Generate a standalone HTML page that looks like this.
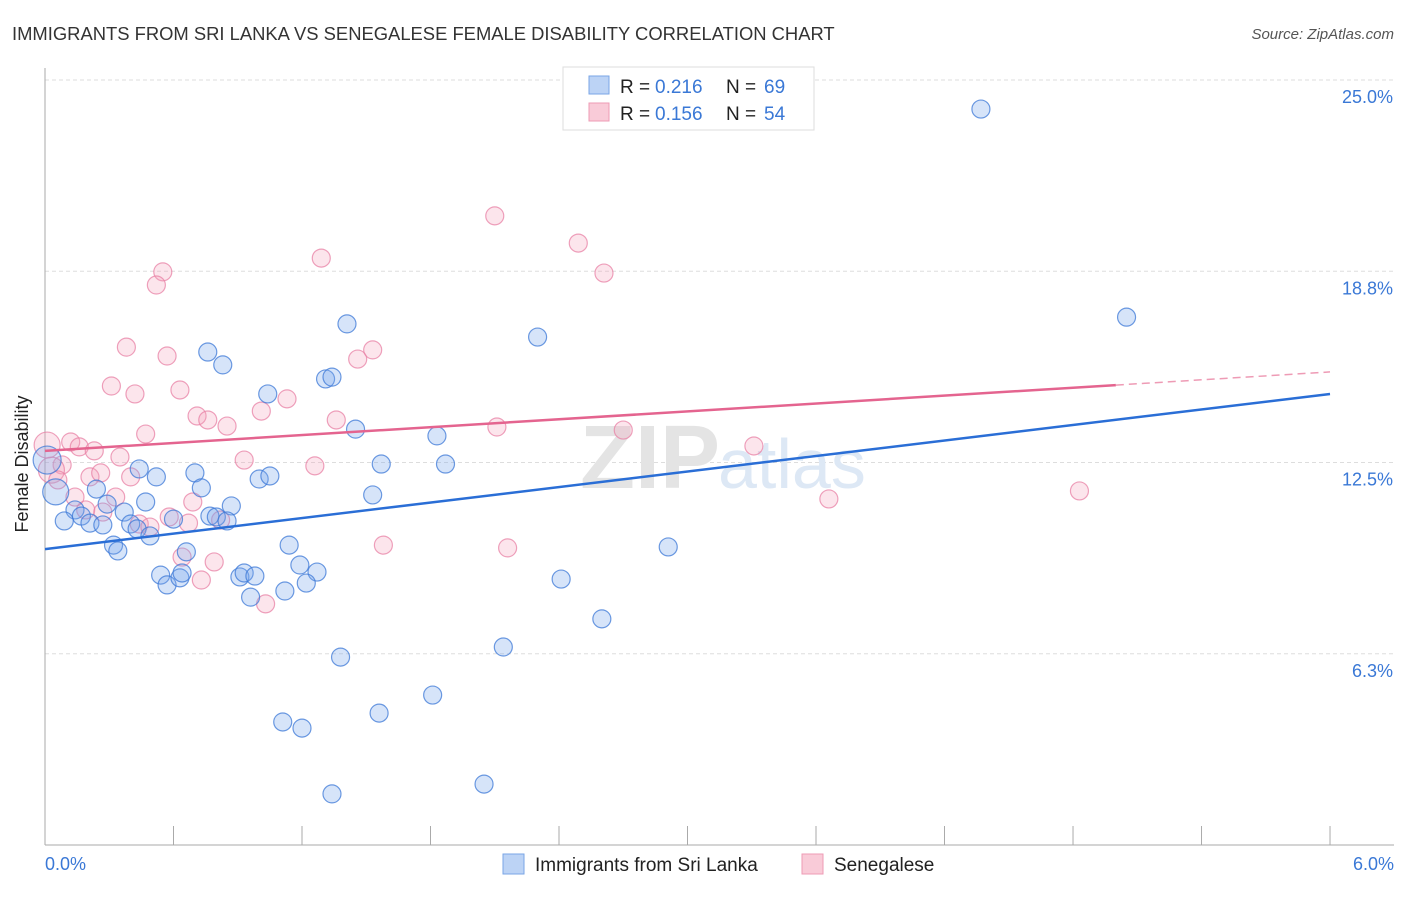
<!DOCTYPE html>
<html><head><meta charset="utf-8"><style>
body{margin:0;background:#fff;font-family:"Liberation Sans",sans-serif;}
svg text{font-family:"Liberation Sans",sans-serif;}
</style></head><body>
<svg id="chart" width="1406" height="892" xmlns="http://www.w3.org/2000/svg">
<text x="12" y="40" font-size="18.4" fill="#333">IMMIGRANTS FROM SRI LANKA VS SENEGALESE FEMALE DISABILITY CORRELATION CHART</text>
<text x="1394" y="39" font-size="15" fill="#555" font-style="italic" text-anchor="end">Source: ZipAtlas.com</text>
<g id="grid"></g>
<text x="720" y="488" font-size="90" fill="#e4e4e4" text-anchor="end" font-weight="bold">ZIP</text>
<text x="718" y="488" font-size="70" fill="#dde8f5">atlas</text>
<line x1="45" y1="68" x2="45" y2="845" stroke="#aaa"/>
<line x1="45" y1="845" x2="1394" y2="845" stroke="#aaa"/>
<g id="xticks"></g>
<text x="20" y="456" font-size="18" fill="#222" text-anchor="middle" transform="rotate(-90 28 456)">Female Disability</text>
<text x="45" y="870" font-size="18" fill="#3a78d6">0.0%</text>
<text x="1394" y="870" font-size="18" fill="#3a78d6" text-anchor="end">6.0%</text>
<g id="pts"></g>
<g id="lines"></g>
<g>
<rect x="563" y="67" width="251" height="63" fill="#fff" stroke="#ddd"/>
<rect x="589" y="76" width="20" height="18" fill="#bcd3f5" stroke="#7aa6e6"/>
<text x="620" y="93" font-size="19" fill="#222">R =</text>
<text x="655" y="93" font-size="19" fill="#3a78d6">0.216</text>
<text x="726" y="93" font-size="19" fill="#222">N =</text>
<text x="764" y="93" font-size="19" fill="#3a78d6">69</text>
<rect x="589" y="103" width="20" height="18" fill="#f9cbd8" stroke="#ee9bb5"/>
<text x="620" y="120" font-size="19" fill="#222">R =</text>
<text x="655" y="120" font-size="19" fill="#3a78d6">0.156</text>
<text x="726" y="120" font-size="19" fill="#222">N =</text>
<text x="764" y="120" font-size="19" fill="#3a78d6">54</text>
</g>
<g>
<rect x="503" y="854" width="21" height="20" fill="#bcd3f5" stroke="#7aa6e6"/>
<text x="535" y="871" font-size="19" fill="#222">Immigrants from Sri Lanka</text>
<rect x="802" y="854" width="21" height="20" fill="#f9cbd8" stroke="#ee9bb5"/>
<text x="834" y="871" font-size="19" fill="#222">Senegalese</text>
</g>
</svg>
<script>
const yTicks=[25.0,18.8,12.5,6.3];
const yTickVals=[25,18.75,12.5,6.25];
const xTickVals=[0,0.6,1.2,1.8,2.4,3.0,3.6,4.2,4.8,5.4,6.0];
const blueX=[4.37,5.05,2.30,1.41,0.76,0.83,1.04,1.31,1.34,1.45,1.83,1.57,1.87,1.53,0.70,0.44,0.52,0.73,1.00,1.05,0.24,0.47,0.87,0.37,0.29,0.14,0.17,0.21,0.09,0.27,0.40,0.43,0.49,0.60,0.77,0.80,0.85,0.32,0.34,1.14,0.66,1.19,1.27,0.54,0.57,0.63,0.64,0.91,0.93,0.98,0.96,1.12,1.22,2.41,2.91,2.60,2.14,1.38,1.81,1.56,1.11,1.20,2.05,1.34,0.05,0.01];
const blueY=[24.05,17.25,16.60,17.03,16.11,15.69,14.74,15.23,15.29,13.59,13.37,12.45,12.45,11.44,12.16,12.29,12.03,11.67,11.96,12.06,11.63,11.21,11.08,10.88,11.14,10.95,10.75,10.52,10.59,10.46,10.49,10.33,10.10,10.65,10.75,10.72,10.59,9.80,9.61,9.80,9.58,9.15,8.92,8.82,8.50,8.73,8.89,8.76,8.89,8.79,8.10,8.30,8.56,8.69,9.74,7.39,6.47,6.14,4.90,4.31,4.02,3.82,1.99,1.67,11.54,12.58];
const blueR=[9,9,9,9,9,9,9,9,9,9,9,9,9,9,9,9,9,9,9,9,9,9,9,9,9,9,9,9,9,9,9,9,9,9,9,9,9,9,9,9,9,9,9,9,9,9,9,9,9,9,9,9,9,9,9,9,9,9,9,9,9,9,9,9,13,14];
const pinkX=[2.10,2.49,2.61,1.29,0.55,0.52,0.38,0.57,1.46,1.53,0.31,0.42,0.63,1.13,0.71,0.76,0.85,1.01,1.36,0.47,2.11,2.70,3.31,0.12,0.16,0.23,0.35,0.93,1.26,0.08,0.03,0.21,0.26,0.40,0.33,0.06,0.69,0.19,0.27,0.58,0.67,0.44,0.49,0.82,0.14,4.83,3.66,1.58,2.16,0.64,0.79,0.73,1.03,0.01];
const pinkY=[20.56,19.67,18.69,19.18,18.73,18.30,16.27,15.98,15.88,16.18,15.00,14.74,14.87,14.58,14.02,13.89,13.69,14.18,13.89,13.43,13.66,13.56,13.04,13.17,13.01,12.88,12.68,12.58,12.39,12.42,12.25,12.03,12.16,12.03,11.37,11.93,11.21,10.95,10.88,10.72,10.52,10.49,10.39,10.62,11.37,11.57,11.31,9.80,9.71,9.41,9.25,8.66,7.88,13.07];
const blueLine=[9.67,14.74];
const pinkLine=[12.88,15.46];
const pinkSolidEnd=5.0;
const NS="http://www.w3.org/2000/svg";
function sx(v){return 45+v*214.17;}
function sy(v){return 80+(25-v)*30.6;}
const grid=document.getElementById('grid');
yTickVals.forEach((v,i)=>{
 const l=document.createElementNS(NS,'line');
 
 
 l.setAttribute('x1',45);l.setAttribute('x2',1394);l.setAttribute('y1',sy(v));l.setAttribute('y2',sy(v));
 l.setAttribute('stroke','#ddd');l.setAttribute('stroke-dasharray','4,3');grid.appendChild(l);
 const t=document.createElementNS(NS,'text');
 
 
 t.setAttribute('x',1393);t.setAttribute('y',sy(v)+23);t.setAttribute('text-anchor','end');
 t.setAttribute('font-size','18');t.setAttribute('fill','#3a78d6');t.textContent=yTicks[i].toFixed(1)+'%';grid.appendChild(t);
});
const xt=document.getElementById('xticks');
xTickVals.forEach(v=>{
 const l=document.createElementNS(NS,'line');
 
 
 l.setAttribute('x1',sx(v));l.setAttribute('x2',sx(v));l.setAttribute('y1',826);l.setAttribute('y2',845);
 l.setAttribute('stroke','#aaa');xt.appendChild(l);
});
const pts=document.getElementById('pts');
function dot(x,y,r,fill,stroke,name){
 const c=document.createElementNS(NS,'circle');
 
 
 c.setAttribute('cx',sx(x));c.setAttribute('cy',sy(y));c.setAttribute('r',r);
 c.setAttribute('fill',fill);c.setAttribute('stroke',stroke);c.setAttribute('stroke-width','1.2');pts.appendChild(c);
}
pinkX.forEach((x,i)=>dot(x,pinkY[i],(i===30||i===53)?13:9,'rgba(244,160,188,0.28)','rgba(232,130,165,0.75)','senegalese-point'));
blueX.forEach((x,i)=>dot(x,blueY[i],blueR[i]||9,'rgba(120,165,235,0.3)','rgba(60,120,215,0.75)','sri-lanka-point'));
const lines=document.getElementById('lines');
function line(x1,y1,x2,y2,col,dash,name){
 const l=document.createElementNS(NS,'line');
 
 
 l.setAttribute('x1',sx(x1));l.setAttribute('y1',sy(y1));l.setAttribute('x2',sx(x2));l.setAttribute('y2',sy(y2));
 l.setAttribute('stroke',col);l.setAttribute('stroke-width',dash?1.5:2.5);if(dash)l.setAttribute('stroke-dasharray','8,5');lines.appendChild(l);
}
line(0,blueLine[0],6,blueLine[1],'#2a6ed6',false,'sri-lanka-trend-line');
const pm=(pinkLine[1]-pinkLine[0])/6;
line(0,pinkLine[0],pinkSolidEnd,pinkLine[0]+pm*pinkSolidEnd,'#e4648f',false,'senegalese-trend-line');
line(pinkSolidEnd,pinkLine[0]+pm*pinkSolidEnd,6,pinkLine[1],'#ee9bb5',true,'senegalese-trend-extension');
</script>
</body></html>
